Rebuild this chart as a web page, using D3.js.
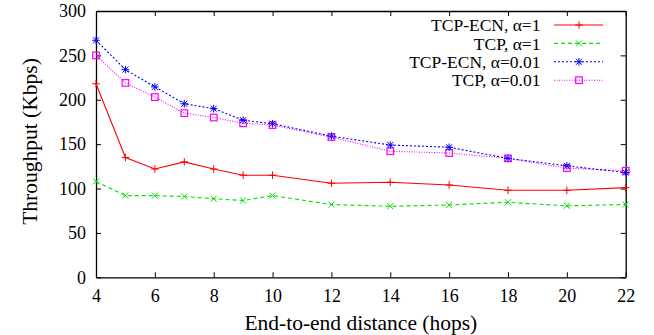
<!DOCTYPE html>
<html>
<head>
<meta charset="utf-8">
<script src="https://cdn.jsdelivr.net/npm/d3@7"></script>
<style>
  html, body { margin: 0; padding: 0; background: #fff; }
</style>
</head>
<body>
<svg id="chart" width="654" height="335"></svg>
<script>
// End-to-end distance in hops
const hops = [4, 5, 6, 7, 8, 9, 10, 12, 14, 16, 18, 20, 22];

// Throughput in Kbps for each configuration
const tcpEcnAlpha1   = [218, 135, 122, 130, 122, 115, 115, 106, 107, 104, 98, 98, 101];
const tcpAlpha1      = [108, 92, 92, 91, 88.5, 86.5, 92, 82, 80, 81.5, 84.5, 80.5, 82];
const tcpEcnAlpha001 = [267, 234, 214.5, 195.5, 190, 177, 173, 159, 149, 146.5, 134, 125.5, 118];
const tcpAlpha001    = [250, 219, 203, 185, 180, 173.5, 171.5, 158, 142, 140, 134, 123, 120];

const seriesNames = ["TCP-ECN, \u03b1=1", "TCP, \u03b1=1", "TCP-ECN, \u03b1=0.01", "TCP, \u03b1=0.01"];
const xTicks = [4, 6, 8, 10, 12, 14, 16, 18, 20, 22];
const yTicks = [0, 50, 100, 150, 200, 250, 300];

const series = [
  { name: seriesNames[0], values: tcpEcnAlpha1,   color: "#ff0000", dash: null,    marker: "plus" },
  { name: seriesNames[1], values: tcpAlpha1,      color: "#00e000", dash: "4,3",   marker: "cross" },
  { name: seriesNames[2], values: tcpEcnAlpha001, color: "#0000ff", dash: "2,2",   marker: "star" },
  { name: seriesNames[3], values: tcpAlpha001,    color: "#ff00ff", dash: "1,1.5", marker: "square" }
];

const FONT = "Liberation Serif";
const svg = d3.select("#chart");
const m = { left: 96, right: 28.3, top: 11, bottom: 57.7 };
const W = 654, H = 335;
const x = d3.scaleLinear().domain([4, 22]).range([m.left, W - m.right]);
const y = d3.scaleLinear().domain([0, 300]).range([H - m.bottom, m.top]);

const tickLen = 5;
const fs = 18;

// Axes: ticks pointing inward, mirrored on top and right
const axisB = svg.append("g").attr("transform", `translate(0,${y(0)})`)
  .call(d3.axisBottom(x).tickValues(xTicks).tickSizeInner(-tickLen).tickSizeOuter(0).tickPadding(14.5));
const axisT = svg.append("g").attr("transform", `translate(0,${y(300)})`)
  .call(d3.axisTop(x).tickValues(xTicks).tickSizeInner(-tickLen).tickSizeOuter(0).tickFormat(""));
const axisL = svg.append("g").attr("transform", `translate(${x(4)},0)`)
  .call(d3.axisLeft(y).tickValues(yTicks).tickSizeInner(-tickLen).tickSizeOuter(0).tickPadding(10));
const axisR = svg.append("g").attr("transform", `translate(${x(22)},0)`)
  .call(d3.axisRight(y).tickValues(yTicks).tickSizeInner(-tickLen).tickSizeOuter(0).tickFormat(""));

[axisB, axisT, axisL, axisR].forEach(g => {
  g.attr("font-family", FONT).attr("font-size", fs);
  g.select(".domain").attr("stroke", "#000").attr("stroke-width", 1.3);
  g.selectAll(".tick line").attr("stroke", "#000").attr("stroke-width", 1);
  g.selectAll(".tick text").attr("fill", "#000").attr("font-family", FONT).attr("font-size", fs);
});
axisB.selectAll(".tick text").attr("dy", "0.55em");

// Axis titles
svg.append("text")
  .attr("x", (x(4) + x(22)) / 2).attr("y", 330)
  .attr("text-anchor", "middle").attr("font-family", FONT).attr("font-size", 21.5)
  .text("End-to-end distance (hops)");
svg.append("text")
  .attr("transform", "translate(36.5,141.5) rotate(-90)")
  .attr("text-anchor", "middle").attr("font-family", FONT).attr("font-size", 21.5)
  .text("Throughput (Kbps)");

function drawMarker(g, type, cx, cy, color) {
  const s = 3.8;
  if (type === "plus" || type === "star") {
    g.append("path").attr("d", `M${cx - s},${cy}H${cx + s}M${cx},${cy - s}V${cy + s}`)
      .attr("stroke", color).attr("stroke-width", 1).attr("fill", "none");
  }
  if (type === "cross" || type === "star") {
    const d = 3;
    g.append("path").attr("d", `M${cx - d},${cy - d}L${cx + d},${cy + d}M${cx - d},${cy + d}L${cx + d},${cy - d}`)
      .attr("stroke", color).attr("stroke-width", 1).attr("fill", "none");
  }
  if (type === "square") {
    g.append("rect").attr("x", cx - 3.3).attr("y", cy - 3.3).attr("width", 6.6).attr("height", 6.6)
      .attr("stroke", color).attr("stroke-width", 1.2).attr("fill", "none");
  }
}

const line = d3.line().x((d, i) => x(hops[i])).y(d => y(d));

// Draw in reverse so the first series sits on top
series.slice().reverse().forEach(s => {
  const g = svg.append("g");
  g.append("path").datum(s.values)
    .attr("d", line).attr("fill", "none")
    .attr("stroke", s.color).attr("stroke-width", 1.1)
    .attr("stroke-dasharray", s.dash);
  s.values.forEach((v, i) => drawMarker(g, s.marker, x(hops[i]), y(v), s.color));
});

// Legend
const legX = 540.5, legY0 = 25, legDy = 18.4;
series.forEach((s, i) => {
  const ly = legY0 + i * legDy;
  const g = svg.append("g");
  g.append("text").attr("x", legX).attr("y", ly).attr("dy", "0.35em")
    .attr("text-anchor", "end").attr("font-family", FONT).attr("font-size", 17.5).text(s.name);
  g.append("line").attr("x1", 554).attr("x2", 603).attr("y1", ly).attr("y2", ly)
    .attr("stroke", s.color).attr("stroke-width", 1.1).attr("stroke-dasharray", s.dash);
  drawMarker(g, s.marker, 579, ly, s.color);
});
</script>
</body>
</html>
